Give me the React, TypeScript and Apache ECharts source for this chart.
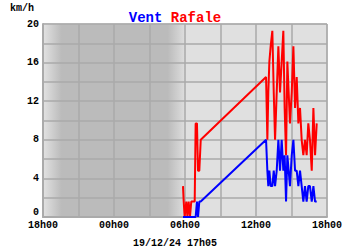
import React, { useEffect, useRef } from "react";
import * as echarts from "echarts";

// hours elapsed since 18h00 on 18/12/24
const hours = [
  11.83, 11.89, 11.97, 12.11, 12.2, 12.31, 12.42, 12.53, 12.68, 12.82, 12.9, 13.01, 13.1, 13.21, 13.33,
  18.85, 18.96, 19.04, 19.13, 19.24, 19.38, 19.5, 19.61, 19.75, 19.89, 20.03, 20.17, 20.31, 20.42,
  20.54, 20.65, 20.76, 20.87, 21.02, 21.16, 21.3, 21.44, 21.58, 21.72, 21.86, 22.0, 22.14, 22.28,
  22.42, 22.56, 22.71, 22.85, 22.99, 23.13,
];
const vent = [
  0, 0, 0, 0, 0, 0, 0, 0, 0, 0, 0, 1.6, 0, 1.6, 1.6,
  8.0, 4.8, 3.2, 4.8, 3.2, 3.2, 4.8, 3.2, 4.8, 8.0, 4.8, 8.0, 4.8, 6.4,
  1.6, 6.4, 4.8, 3.2, 6.4, 8.0, 4.8, 4.8, 3.2, 4.8, 3.2, 1.6, 3.2, 1.6,
  3.2, 3.2, 1.6, 3.2, 1.6, 1.6,
];
const rafale = [
  3.2, 1.6, 0, 1.6, 0, 1.6, 0, 1.6, 1.6, 1.6, 9.7, 9.7, 4.8, 4.8, 8.0,
  14.5, 8.0, 12.9, 16.1, 17.7, 19.3, 12.9, 8.0, 12.9, 17.7, 12.9, 16.1, 19.3, 11.3,
  6.4, 16.1, 12.9, 9.7, 12.9, 17.7, 11.3, 14.5, 9.7, 11.3, 8.0, 6.4, 8.0, 6.4,
  9.7, 8.0, 4.8, 11.3, 6.4, 9.7,
];
const xTickLabels = ["18h00", "00h00", "06h00", "12h00", "18h00"];
const nightStart = 0;
const nightEnd = 12.1;
const titleVent = "Vent";
const titleRafale = "Rafale";
const unitLabel = "km/h";
const dateLabel = "19/12/24 17h05";

const FONT = "'Liberation Mono', 'DejaVu Sans Mono', monospace";

export default function App() {
  const ref = useRef<HTMLDivElement>(null);
  useEffect(() => {
    if (!ref.current) return;
    const chart = echarts.init(ref.current, undefined, { renderer: "svg" });
    const ventData = hours.map((h, i) => [h, vent[i]]);
    const rafaleData = hours.map((h, i) => [h, rafale[i]]);
    chart.setOption({
      animation: false,
      backgroundColor: "#ffffff",
      title: {
        text: `{b|${titleVent}} {r|${titleRafale}}`,
        left: "center",
        top: 6,
        textStyle: {
          fontFamily: FONT,
          fontSize: 14,
          fontWeight: "bold",
          rich: {
            b: { color: "#0000ff", fontFamily: FONT, fontSize: 14, fontWeight: "bold" },
            r: { color: "#ff0000", fontFamily: FONT, fontSize: 14, fontWeight: "bold" },
          },
        },
      },
      graphic: [
        {
          type: "text",
          x: 22,
          y: 8,
          style: {
            text: unitLabel,
            fontFamily: FONT,
            fontSize: 10,
            fontWeight: "bold",
            fill: "#000",
            align: "center",
            verticalAlign: "middle",
          },
        },
        {
          type: "text",
          x: 175,
          y: 243,
          style: {
            text: dateLabel,
            fontFamily: FONT,
            fontSize: 10,
            fontWeight: "bold",
            fill: "#000",
            align: "center",
            verticalAlign: "middle",
          },
        },
      ],
      grid: {
        left: 43,
        right: 23,
        top: 24,
        bottom: 33,
        show: true,
        backgroundColor: "#e0e0e0",
        borderColor: "#aaaaaa",
        borderWidth: 1,
        z: 0,
      },
      xAxis: {
        type: "value",
        min: 0,
        max: 24,
        interval: 3,
        z: 2,
        axisLine: { show: true, lineStyle: { color: "#aaaaaa", width: 2 } },
        axisTick: { show: false },
        splitLine: { show: true, lineStyle: { color: "#aaaaaa", width: 1.5 } },
        axisLabel: {
          margin: 3,
          fontFamily: FONT,
          fontSize: 10,
          fontWeight: "bold",
          color: "#000",
          formatter: (v: number) => (v % 6 === 0 ? xTickLabels[v / 6] : ""),
        },
      },
      yAxis: {
        type: "value",
        min: 0,
        max: 20,
        interval: 2,
        z: 2,
        axisLine: { show: true, lineStyle: { color: "#aaaaaa", width: 2 } },
        axisTick: { show: false },
        splitLine: { show: true, lineStyle: { color: "#aaaaaa", width: 1.5 } },
        axisLabel: {
          margin: 4,
          fontFamily: FONT,
          fontSize: 10,
          fontWeight: "bold",
          color: "#000",
          formatter: (v: number) => (v === 0 ? "{z|0}" : v % 4 === 0 ? String(v) : ""),
          rich: {
            z: { fontFamily: FONT, fontSize: 10, fontWeight: "bold", color: "#000", padding: [0, 0, 10, 0] },
          },
        },
      },
      series: [
        {
          type: "line",
          data: [],
          z: 1,
          silent: true,
          markArea: {
            silent: true,
            itemStyle: {
              color: new echarts.graphic.LinearGradient(0, 0, 1, 0, [
                { offset: 0, color: "#e2e2e2" },
                { offset: 0.13, color: "#bbbbbb" },
                { offset: 0.87, color: "#bbbbbb" },
                { offset: 1, color: "#e0e0e0" },
              ]),
            },
            data: [[{ xAxis: nightStart, yAxis: 0 }, { xAxis: nightEnd, yAxis: 20 }]],
          },
        },
        {
          name: "Rafale",
          type: "line",
          data: rafaleData,
          z: 3,
          showSymbol: false,
          lineStyle: { color: "#ff0000", width: 2 },
          itemStyle: { color: "#ff0000" },
        },
        {
          name: "Vent",
          type: "line",
          data: ventData,
          z: 4,
          showSymbol: false,
          lineStyle: { color: "#0000ff", width: 2 },
          itemStyle: { color: "#0000ff" },
        },
      ],
    });
    return () => chart.dispose();
  }, []);
  return <div ref={ref} style={{ width: 350, height: 250, position: "absolute", left: 0, top: 0 }} />;
}
